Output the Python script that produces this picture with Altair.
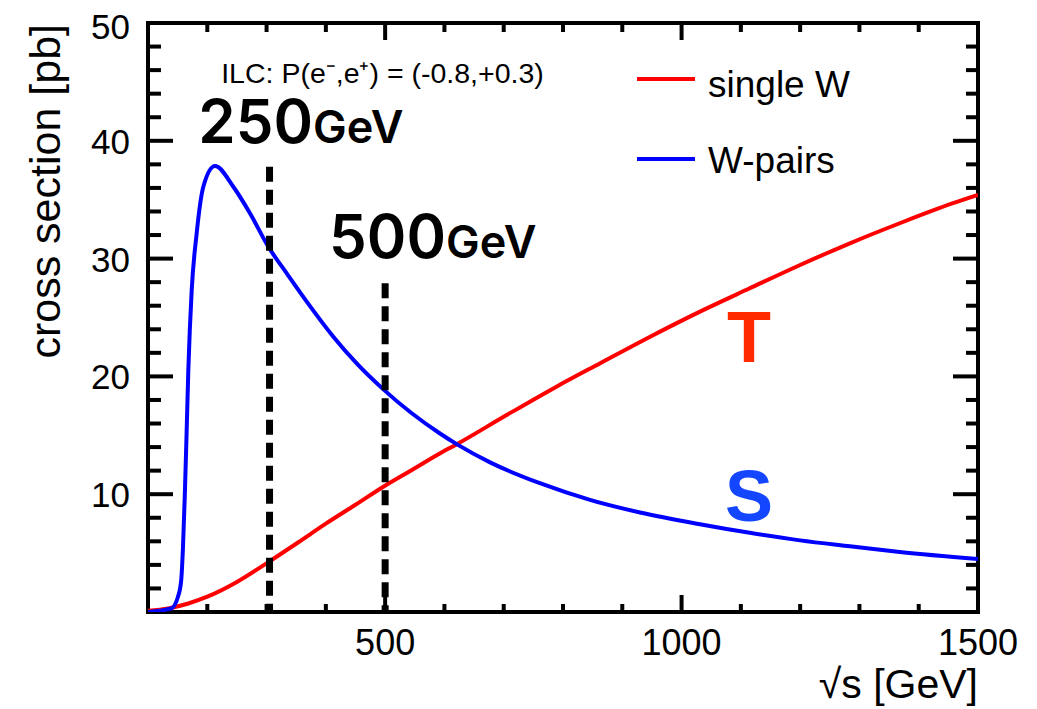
import altair as alt
import pandas as pd

FONT = "Liberation Sans"
BIG_FONT = "Inter"

# ---- curves ----
single_w_x = [100, 134, 168, 200, 250, 305, 353, 400, 450, 499, 550, 592, 621, 705, 789, 862,
              947, 1031, 1115, 1200, 1284, 1368, 1458, 1500]
single_w_y = [0.1, 0.3, 0.72, 1.3, 2.55, 4.3, 5.9, 7.5, 9.1, 10.7, 12.2, 13.45, 14.25, 16.72,
              19.13, 21.1, 23.37, 25.5, 27.48, 29.46, 31.3, 33.0, 34.7, 35.4]

w_pairs_x = [100, 139, 150.6, 156, 159, 162, 165, 168, 173.7, 182, 193.3, 213, 243.9, 272, 303,
             334, 367.7, 412.6, 452, 497, 592.5, 620.7, 677, 761, 845.5, 930, 1031, 1115, 1200,
             1284, 1368, 1500]
w_pairs_y = [0.0, 0.3, 1.3, 2.7, 5.5, 9.8, 15.0, 20.5, 27.3, 32.1, 36.1, 37.86, 36.1, 33.85, 31.0,
             28.75, 26.35, 23.37, 21.1, 18.9, 15.15, 14.25, 12.7, 10.93, 9.52, 8.45, 7.45, 6.72,
             6.08, 5.58, 5.1, 4.5]

series_names = ["single W", "W-pairs"]
series_colors = ["#ff0000", "#0000ff"]

# ---- reference energies (dashed lines) ----
energy_x = [305, 500]
energy_top = [37.8, 27.9]
energy_bottom = [0, 0]
energy_num = ["250", "500"]
energy_label_x = [378.3, 602.6]
energy_label_y = [39.8, 30.05]

# ---- axes ----
x_labels = [500, 1000, 1500]
y_labels = [10, 20, 30, 40, 50]
x_title = ["\u221as [GeV]"]
y_title = ["cross section [pb]"]
x_major = [500, 1000]
x_minor = [200, 300, 400, 600, 700, 800, 900, 1100, 1200, 1300, 1400]
y_major = [10, 20, 30, 40]
y_minor = [2, 4, 6, 8, 12, 14, 16, 18, 22, 24, 26, 28, 32, 34, 36, 38, 42, 44, 46, 48]

# ---- annotations ----
ilc_text = ["ILC: P(e\u207b,e\u207a) = (-0.8,+0.3)"]
ilc_x = [495.5]
ilc_y = [44.9]

legend_x1 = [924.8, 924.8]
legend_x2 = [1022.6, 1022.6]
legend_line_y = [45.25, 38.46]
legend_text_x = [1044.6, 1044.6]
legend_text_y = [43.72, 37.27]

ts_text = ["T", "S"]
ts_x = [1113.7, 1113.7]
ts_y = [21.22, 7.72]
ts_color = ["#ff2a00", "#1446ff"]

W, H = 830, 589

xscale = alt.Scale(domain=[100, 1500], nice=False, zero=False)
yscale = alt.Scale(domain=[0, 50], nice=False)
cscale = alt.Scale(domain=series_names, range=series_colors)


def X(field):
    return alt.X(field, scale=xscale, axis=None)


def Y(field):
    return alt.Y(field, scale=yscale, axis=None)


curves = pd.concat([
    pd.DataFrame({"x": single_w_x, "y": single_w_y, "series": series_names[0]}),
    pd.DataFrame({"x": w_pairs_x, "y": w_pairs_y, "series": series_names[1]}),
])

lines = alt.Chart(curves).mark_line(strokeWidth=4, interpolate="monotone", clip=True).encode(
    x=X("x:Q"), y=Y("y:Q"),
    color=alt.Color("series:N", scale=cscale, legend=None),
    detail="series:N",
)

energy_df = pd.DataFrame({"x": energy_x, "top": energy_top, "bottom": energy_bottom,
                          "num": energy_num, "lx": energy_label_x, "ly": energy_label_y})
dashes = alt.Chart(energy_df).mark_rule(color="black", strokeWidth=7, strokeDash=[15, 8]).encode(
    x=X("x:Q"), y=Y("top:Q"), y2="bottom:Q",
)
nums = alt.Chart(energy_df).mark_text(align="right", baseline="alphabetic", font=BIG_FONT,
                                      fontSize=60, fontWeight=600, color="black").encode(
    x=X("lx:Q"), y=Y("ly:Q"), text="num:N",
)
gev = alt.Chart(energy_df).mark_text(align="left", baseline="alphabetic", font=BIG_FONT,
                                     fontSize=45, fontWeight=600, color="black").encode(
    x=X("lx:Q"), y=Y("ly:Q"), text=alt.value("GeV"),
)

ilc = alt.Chart(pd.DataFrame({"t": ilc_text, "x": ilc_x, "y": ilc_y})).mark_text(
    align="center", baseline="alphabetic", font=FONT, fontSize=28.5, color="black").encode(
    x=X("x:Q"), y=Y("y:Q"), text="t:N",
)

leg_df = pd.DataFrame({"series": series_names, "x1": legend_x1, "x2": legend_x2,
                       "ly": legend_line_y, "tx": legend_text_x, "ty": legend_text_y})
leg_lines = alt.Chart(leg_df).mark_rule(strokeWidth=4).encode(
    x=X("x1:Q"), x2="x2:Q", y=Y("ly:Q"),
    color=alt.Color("series:N", scale=cscale, legend=None),
)
leg_text = alt.Chart(leg_df).mark_text(align="left", baseline="alphabetic", font=FONT,
                                       fontSize=37, color="black").encode(
    x=X("tx:Q"), y=Y("ty:Q"), text="series:N",
)

ts = alt.Chart(pd.DataFrame({"t": ts_text, "x": ts_x, "y": ts_y, "c": ts_color})).mark_text(
    align="center", baseline="alphabetic", font=FONT, fontSize=72, fontWeight="bold").encode(
    x=X("x:Q"), y=Y("y:Q"), text="t:N",
    color=alt.Color("c:N", scale=None),
)


# inward ticks on all four sides
def xticks(vals, y0, y1):
    return alt.Chart(pd.DataFrame({"v": vals})).mark_rule(color="black", strokeWidth=4).encode(
        x=X("v:Q"), y=alt.value(y0), y2=alt.value(y1))


def yticks(vals, x0, x1):
    return alt.Chart(pd.DataFrame({"v": vals})).mark_rule(color="black", strokeWidth=4).encode(
        y=Y("v:Q"), x=alt.value(x0), x2=alt.value(x1))


ticks = [
    xticks(x_major, H, H - 17), xticks(x_minor, H, H - 8),
    xticks(x_major, 0, 17), xticks(x_minor, 0, 9),
    yticks(y_major, 0, 25), yticks(y_minor, 0, 13),
    yticks(y_major, W, W - 25), yticks(y_minor, W, W - 12),
]

# tick labels and axis titles
xlab = alt.Chart(pd.DataFrame({"v": x_labels})).mark_text(
    align="center", baseline="alphabetic", font=FONT, fontSize=36, color="black").encode(
    x=X("v:Q"), y=alt.value(H + 43), text=alt.Text("v:Q", format="d"),
)


def ylabels(vals, dy):
    return alt.Chart(pd.DataFrame({"v": vals})).mark_text(
        align="right", baseline="middle", font=FONT, fontSize=35, color="black", dy=dy).encode(
        y=Y("v:Q"), x=alt.value(-18), text=alt.Text("v:Q", format="d"),
    )


ylab_inner = ylabels(y_labels[:-1], 2)
ylab_top = ylabels(y_labels[-1:], 5)

xtitle = alt.Chart(pd.DataFrame({"t": x_title})).mark_text(
    align="right", baseline="alphabetic", font=FONT, fontSize=41, color="black").encode(
    x=alt.value(W), y=alt.value(H + 86), text="t:N",
)
ytitle = alt.Chart(pd.DataFrame({"t": y_title})).mark_text(
    align="right", baseline="alphabetic", font=FONT, fontSize=43, color="black", angle=270).encode(
    x=alt.value(-88), y=alt.value(1), text="t:N",
)

chart = alt.layer(lines, dashes, nums, gev, ilc, leg_lines, leg_text, ts, *ticks,
                  xlab, ylab_inner, ylab_top, xtitle, ytitle).properties(
    width=W, height=H, autosize="none",
    padding={"left": 140, "top": 15, "right": 51, "bottom": 100},
).configure_view(stroke="black", strokeWidth=4)

chart.save("out.html", embed_options={"renderer": "svg", "actions": False})
